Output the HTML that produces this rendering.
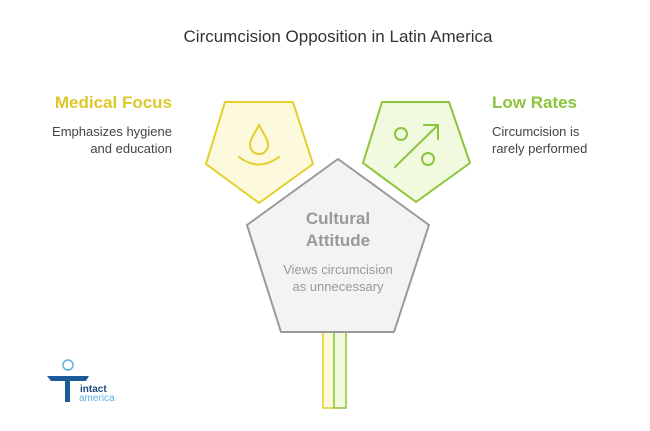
<!DOCTYPE html>
<html><head><style>
body{margin:0;width:650px;height:426px;background:#fff;font-family:"Liberation Sans",sans-serif;overflow:hidden}
</style></head><body>
<svg width="650" height="426" xmlns="http://www.w3.org/2000/svg" font-family="Liberation Sans, sans-serif">
<text x="338" y="42" text-anchor="middle" font-size="17" fill="#333">Circumcision Opposition in Latin America</text>
<polygon points="225,102 293,102 313,164 259,203 206,164" fill="#fdf9dc" stroke="#e2cf2a" stroke-width="2" stroke-linejoin="round"/>
<polygon points="382,102 449,102 470,163 416,202 363,163" fill="#f1fadf" stroke="#8cc43c" stroke-width="2" stroke-linejoin="round"/>
<rect x="323" y="332" width="11" height="76" fill="#fdf9dc" stroke="#e2cf2a" stroke-width="1.5"/>
<rect x="334" y="332" width="12" height="76" fill="#f1fadf" stroke="#8cc43c" stroke-width="1.5"/>
<polygon points="338,159 429,225 394,332 281,332 247,225" fill="#f3f3f3" stroke="#999" stroke-width="2" stroke-linejoin="round"/>
<g fill="none" stroke="#e2cf2a" stroke-width="2" stroke-linecap="round">
<path d="M259,125 C255,133 250,139 250,145 A9,9 0 0 0 268,145 C268,139 263,133 259,125 Z"/>
<path d="M239,157 Q259,172 279,157"/>
</g>
<g fill="none" stroke="#8cc43c" stroke-width="2" stroke-linecap="round">
<circle cx="401" cy="134" r="6"/><circle cx="428" cy="159" r="6"/>
<path d="M395,167 L438,125 M424,125 L438,125 L438,139"/>
</g>
<text x="338" y="224" text-anchor="middle" font-size="17" font-weight="bold" fill="#999">Cultural</text>
<text x="338" y="246" text-anchor="middle" font-size="17" font-weight="bold" fill="#999">Attitude</text>
<text x="338" y="274" text-anchor="middle" font-size="13" fill="#999">Views circumcision</text>
<text x="338" y="291" text-anchor="middle" font-size="13" fill="#999">as unnecessary</text>
<text x="172" y="108" text-anchor="end" font-size="17" font-weight="bold" fill="#dcc82a">Medical Focus</text>
<text x="172" y="136" text-anchor="end" font-size="13" fill="#444">Emphasizes hygiene</text>
<text x="172" y="153" text-anchor="end" font-size="13" fill="#444">and education</text>
<text x="492" y="108" font-size="17" font-weight="bold" fill="#8cc43c">Low Rates</text>
<text x="492" y="136" font-size="13" fill="#444">Circumcision is</text>
<text x="492" y="153" font-size="13" fill="#444">rarely performed</text>
<circle cx="68" cy="365" r="5" fill="none" stroke="#5ab0e0" stroke-width="1.5"/>
<path d="M47,376 L89,376 L86,381 L70,381 L70,402 L65,402 L65,381 L51,381 Z" fill="#1d5a9a"/>
<text x="80" y="392" font-size="10" font-weight="bold" fill="#1d4a7a">intact</text>
<text x="79" y="401" font-size="10" fill="#5ab0e0">america</text>
</svg>
</body></html>
